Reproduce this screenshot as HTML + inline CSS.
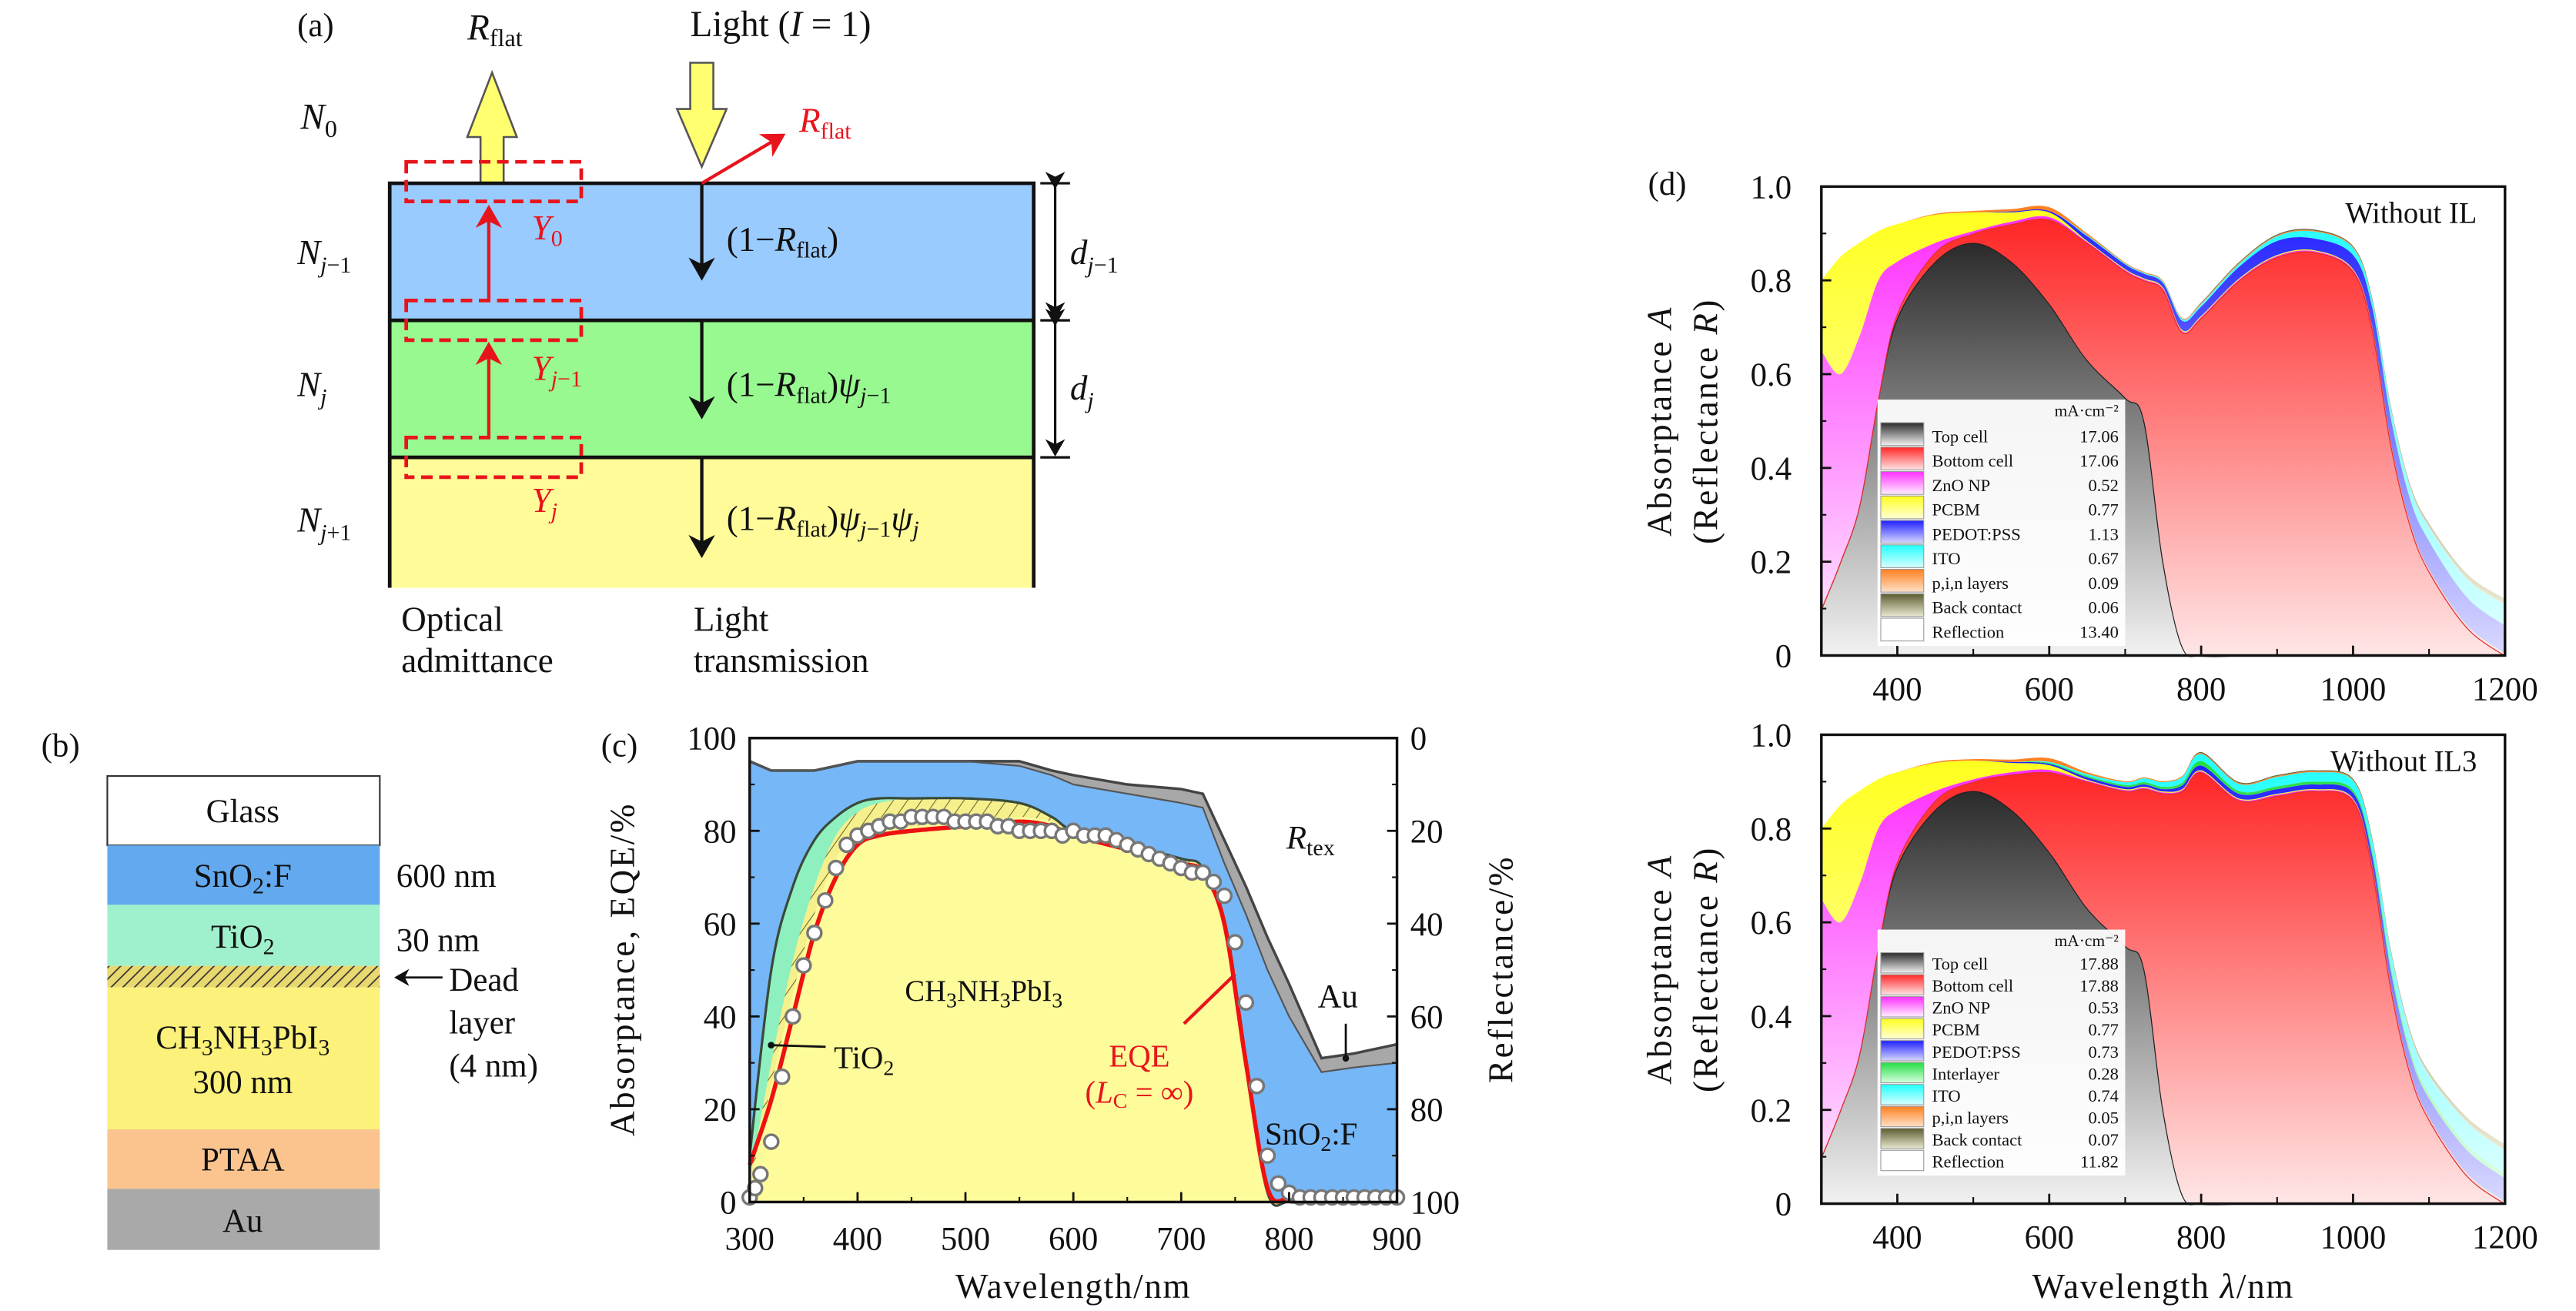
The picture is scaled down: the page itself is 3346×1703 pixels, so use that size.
<!DOCTYPE html>
<html><head><meta charset="utf-8">
<style>
html,body{margin:0;padding:0;background:#fff;}
svg{display:block;font-family:"Liberation Serif",serif;}
text{fill:#111;}
</style></head>
<body>
<svg id="fig" width="3346" height="1703" viewBox="0 0 1560 794" preserveAspectRatio="none" xmlns="http://www.w3.org/2000/svg">
<defs>
<pattern id="hatch" patternUnits="userSpaceOnUse" width="7" height="7" patternTransform="rotate(35)">
<rect width="7" height="7" fill="#f6f08c"/><line x1="0" y1="0" x2="0" y2="7" stroke="#6a6a30" stroke-width="1"/></pattern>
<pattern id="hatchB" patternUnits="userSpaceOnUse" width="5" height="5" patternTransform="rotate(45)">
<rect width="5" height="5" fill="#e8d870"/><line x1="0" y1="0" x2="0" y2="5" stroke="#333" stroke-width="1.6"/></pattern>
<marker id="ahK" markerWidth="8" markerHeight="8" refX="6" refY="4" orient="auto"><path d="M0,0 L7,4 L0,8 L2,4Z" fill="#111"/></marker>
<marker id="ahR" markerWidth="8" markerHeight="8" refX="6" refY="4" orient="auto"><path d="M0,0 L7,4 L0,8 L2,4Z" fill="#e8141c"/></marker>
</defs>

<!-- Panel (a) -->
<g>
<text x="180" y="22" font-size="20">(a)</text>
<text x="283" y="24" font-size="22"><tspan font-style="italic">R</tspan><tspan font-size="15" dy="4">flat</tspan></text>
<text x="418" y="22" font-size="22">Light (<tspan font-style="italic">I</tspan> = 1)</text>
<text x="182" y="78" font-size="22" font-style="italic">N<tspan font-size="15" dy="5" font-style="normal">0</tspan></text>
<polygon points="291,125 291,95 283,95 298,56 313,95 305,95 305,125" fill="#ffff70" stroke="#555" stroke-width="1.2" transform="translate(0,-12)"/>
<polygon points="418,40 432,40 432,68 440,68 425,103 410,68 418,68" fill="#ffff70" stroke="#555" stroke-width="1.2" transform="translate(0,-2)"/>
<rect x="236" y="111" width="390" height="83" fill="#99cbff"/>
<rect x="236" y="194" width="390" height="83" fill="#97f98f"/>
<rect x="236" y="277" width="390" height="79" fill="#fffb98"/>
<path d="M236,356 V111 H626 V356 M236,194 H626 M236,277 H626" fill="none" stroke="#111" stroke-width="2.2"/>
<g fill="none" stroke="#e8141c" stroke-width="2.2" stroke-dasharray="7,4">
<rect x="246" y="98" width="106" height="24"/>
<rect x="246" y="182" width="106" height="24"/>
<rect x="246" y="265" width="106" height="24"/>
</g>
<g stroke="#e8141c" stroke-width="2">
<line x1="296" y1="182" x2="296" y2="126" marker-end="url(#ahR)"/>
<line x1="296" y1="265" x2="296" y2="209" marker-end="url(#ahR)"/>
<line x1="425" y1="111" x2="474" y2="82" marker-end="url(#ahR)"/>
</g>
<text x="484" y="80" font-size="21" fill="#e8141c" style="fill:#e8141c" font-style="italic">R<tspan font-size="14" font-style="normal" dy="4">flat</tspan></text>
<g font-size="21" style="fill:#e8141c" font-style="italic">
<text x="322" y="145" style="fill:#e8141c">Y<tspan font-size="14" font-style="normal" dy="4">0</tspan></text>
<text x="322" y="230" style="fill:#e8141c">Y<tspan font-size="14" dy="4">j</tspan><tspan font-size="14" font-style="normal">−1</tspan></text>
<text x="322" y="310" style="fill:#e8141c">Y<tspan font-size="14" dy="4">j</tspan></text>
</g>
<g stroke="#111" stroke-width="2">
<line x1="425" y1="112" x2="425" y2="168" marker-end="url(#ahK)"/>
<line x1="425" y1="195" x2="425" y2="252" marker-end="url(#ahK)"/>
<line x1="425" y1="278" x2="425" y2="336" marker-end="url(#ahK)"/>
</g>
<g font-size="21">
<text x="440" y="152">(1−<tspan font-style="italic">R</tspan><tspan font-size="14" dy="4">flat</tspan><tspan dy="-4">)</tspan></text>
<text x="440" y="240">(1−<tspan font-style="italic">R</tspan><tspan font-size="14" dy="4">flat</tspan><tspan dy="-4">)</tspan><tspan font-style="italic">ψ</tspan><tspan font-size="14" dy="4" font-style="italic">j</tspan><tspan font-size="14">−1</tspan></text>
<text x="440" y="321">(1−<tspan font-style="italic">R</tspan><tspan font-size="14" dy="4">flat</tspan><tspan dy="-4">)</tspan><tspan font-style="italic">ψ</tspan><tspan font-size="14" dy="4" font-style="italic">j</tspan><tspan font-size="14">−1</tspan><tspan font-style="italic" dy="-4">ψ</tspan><tspan font-size="14" dy="4" font-style="italic">j</tspan></text>
<text x="180" y="160" font-style="italic">N<tspan font-size="14" dy="5">j</tspan><tspan font-size="14" font-style="normal">−1</tspan></text>
<text x="180" y="240" font-style="italic">N<tspan font-size="14" dy="5">j</tspan></text>
<text x="180" y="322" font-style="italic">N<tspan font-size="14" dy="5">j</tspan><tspan font-size="14" font-style="normal">+1</tspan></text>
<text x="648" y="160" font-style="italic">d<tspan font-size="14" dy="5">j</tspan><tspan font-size="14" font-style="normal">−1</tspan></text>
<text x="648" y="242" font-style="italic">d<tspan font-size="14" dy="5">j</tspan></text>
<text x="243" y="382">Optical</text><text x="243" y="407">admittance</text>
<text x="420" y="382">Light</text><text x="420" y="407">transmission</text>
</g>
<g stroke="#111" stroke-width="1.5">
<line x1="639" y1="113" x2="639" y2="192" marker-start="url(#ahK)" marker-end="url(#ahK)"/>
<line x1="639" y1="196" x2="639" y2="275" marker-start="url(#ahK)" marker-end="url(#ahK)"/>
<line x1="630" y1="111" x2="648" y2="111"/><line x1="630" y1="194" x2="648" y2="194"/><line x1="630" y1="277" x2="648" y2="277"/>
</g>
</g>

<!-- Panel (b) -->
<g font-size="20">
<text x="25" y="458">(b)</text>
<rect x="65" y="470" width="165" height="42" fill="#fff" stroke="#333"/>
<rect x="65" y="512" width="165" height="36" fill="#63a9ef"/>
<rect x="65" y="548" width="165" height="37" fill="#9ff0cc"/>
<rect x="65" y="585" width="165" height="13" fill="url(#hatchB)"/>
<rect x="65" y="598" width="165" height="86" fill="#fcf17a"/>
<rect x="65" y="684" width="165" height="36" fill="#fbc48e"/>
<rect x="65" y="720" width="165" height="37" fill="#a9a9a9"/>
<text x="147" y="498" text-anchor="middle">Glass</text>
<text x="147" y="537" text-anchor="middle">SnO<tspan font-size="14" dy="4">2</tspan><tspan dy="-4">:F</tspan></text>
<text x="147" y="574" text-anchor="middle">TiO<tspan font-size="14" dy="4">2</tspan></text>
<text x="147" y="635" text-anchor="middle">CH<tspan font-size="14" dy="4">3</tspan><tspan dy="-4">NH</tspan><tspan font-size="14" dy="4">3</tspan><tspan dy="-4">PbI</tspan><tspan font-size="14" dy="4">3</tspan></text>
<text x="147" y="662" text-anchor="middle">300 nm</text>
<text x="147" y="709" text-anchor="middle">PTAA</text>
<text x="147" y="746" text-anchor="middle">Au</text>
<text x="240" y="537">600 nm</text>
<text x="240" y="576">30 nm</text>
<line x1="268" y1="592" x2="240" y2="592" stroke="#111" stroke-width="1.3" marker-end="url(#ahK)"/>
<text x="272" y="600">Dead</text><text x="272" y="626">layer</text><text x="272" y="652">(4 nm)</text>
</g>

<g id="pc"></g>
<g id="pd"></g>
</svg>

<script>
// ---------- Panel (c) data ----------
const cW      = [300,320,340,360,380,400,420,450,500,550,580,600,650,700,720,740,760,780,800,830,860,900];
const cRtex   = [95,93,93,93,94,95,95,95,95,95,93,92,90,89,88,78,68,57,47,31,32,34];
const cSnO2   = [95,93,93,93,94,95,95,95,95,94,92,90,88,86,85,73,62,50,40,28,29,30];
const cAbs    = [10,50,68,78,83,86,87,87,87,86,83,80,77,74,72,60,30,2,0,0,0,0];
const cDead   = [5,30,52,68,79,84,86,87,87,86,83,80,77,74,72,60,30,2,0,0,0,0];
const cPvk    = [3,25,45,62,74,79,80,81,82,83,82,80,77,73,71,60,30,2,0,0,0,0];
const cEqe    = [8,22,40,58,70,77,79,80,81,82,81,79,76,73,71,60,30,3,0.6,0.6,0.6,0.6];
const mW = [300,305,310,320,330,340,350,360,370,380,390,400,410,420,430,440,450,460,470,480,490,500,510,520,530,540,550,560,570,580,590,600,610,620,630,640,650,660,670,680,690,700,710,720,730,740,750,760,770,780,790,800,810,820,830,840,850,860,870,880,890,900];
const mV = [1,3,6,13,27,40,51,58,65,72,77,79,80,81,82,82,83,83,83,83,82,82,82,82,81,81,80,80,80,80,79,80,79,79,79,78,77,76,75,74,73,72,71,71,69,66,56,43,25,10,4,2,1,1,1,1,1,1,1,1,1,1];
const cXTicks = [300,400,500,600,700,800,900];
const cYTicks = [0,20,40,60,80,100];
const cRTicks = ["100","80","60","40","20","0"];

// ---------- Panel (d) data ----------
const dW = [300,325,350,375,400,450,500,550,600,650,700,725,750,775,800,850,900,950,1000,1025,1050,1075,1100,1150,1200];
const aTop   = [0.10,0.20,0.32,0.55,0.72,0.84,0.88,0.84,0.75,0.63,0.55,0.50,0.20,0.02,0,0,0,0,0,0,0,0,0,0,0];
const aBot   = [0,0,0,0,0.01,0.02,0.02,0.08,0.18,0.25,0.27,0.30,0.58,0.67,0.72,0.80,0.85,0.86,0.82,0.70,0.45,0.28,0.18,0.06,0];
const aZno   = [0.55,0.40,0.36,0.25,0.11,0.02,0.005,0.005,0.005,0.002,0.002,0.002,0.002,0.002,0.002,0.002,0.002,0.002,0.002,0.002,0.002,0.002,0.002,0.002,0.002];
const aPcbm  = [0.15,0.25,0.20,0.105,0.08,0.06,0.04,0.02,0.01,0.002,0.002,0.002,0.002,0.002,0.002,0.002,0.002,0.002,0.002,0.002,0.002,0.002,0.002,0.002,0.002];
const aPedot = [0,0,0,0,0,0,0,0.002,0.003,0.01,0.01,0.01,0.01,0.02,0.02,0.025,0.03,0.025,0.03,0.04,0.05,0.05,0.06,0.06,0.06];
const aIto   = [0,0,0,0,0,0,0,0,0,0.002,0.002,0.002,0.003,0.004,0.005,0.006,0.01,0.015,0.015,0.015,0.02,0.025,0.03,0.04,0.045];
const aPin   = [0,0,0,0,0,0.002,0.003,0.005,0.008,0.004,0.002,0.002,0.002,0.002,0.002,0.002,0.002,0.002,0.002,0.002,0.002,0.002,0.002,0.002,0.002];
const aBack  = [0,0,0,0,0,0,0,0,0,0,0,0,0,0,0.002,0.002,0.002,0.002,0.002,0.003,0.004,0.005,0.006,0.008,0.01];
const bTop   = [0.10,0.20,0.32,0.55,0.72,0.84,0.88,0.84,0.75,0.63,0.55,0.50,0.20,0.02,0,0,0,0,0,0,0,0,0,0,0];
const bBot   = [0,0,0,0,0.01,0.02,0.02,0.075,0.17,0.27,0.33,0.385,0.675,0.86,0.92,0.86,0.87,0.88,0.86,0.72,0.46,0.28,0.18,0.06,0];
const bZno   = [0.55,0.40,0.36,0.25,0.11,0.02,0.005,0.005,0.005,0.002,0.002,0.002,0.002,0.002,0.002,0.002,0.002,0.002,0.002,0.002,0.002,0.002,0.002,0.002,0.002];
const bPcbm  = [0.15,0.25,0.20,0.105,0.08,0.06,0.04,0.02,0.01,0.002,0.002,0.002,0.002,0.002,0.002,0.002,0.002,0.002,0.002,0.002,0.002,0.002,0.002,0.002,0.002];
const bPedot = [0,0,0,0,0,0,0,0.002,0.003,0.005,0.005,0.005,0.005,0.008,0.01,0.01,0.01,0.01,0.012,0.02,0.03,0.035,0.04,0.05,0.05];
const bInter = [0,0,0,0,0,0,0,0,0.002,0.003,0.004,0.005,0.005,0.006,0.01,0.006,0.006,0.006,0.006,0.008,0.01,0.01,0.01,0.01,0.01];
const bIto   = [0,0,0,0,0,0,0,0,0.002,0.004,0.006,0.008,0.01,0.012,0.015,0.015,0.02,0.02,0.02,0.025,0.03,0.035,0.04,0.05,0.05];
const bPin   = [0,0,0,0,0,0.002,0.003,0.005,0.008,0.004,0.002,0.002,0.002,0.002,0.002,0.002,0.002,0.002,0.002,0.002,0.002,0.002,0.002,0.002,0.002];
const bBack  = [0,0,0,0,0,0,0,0,0,0,0,0,0,0,0.002,0.002,0.002,0.002,0.002,0.003,0.004,0.005,0.006,0.008,0.01];
const legA = ["Top cell","Bottom cell","ZnO NP","PCBM","PEDOT:PSS","ITO","p,i,n layers","Back contact","Reflection"];
const legAV = ["17.06","17.06","0.52","0.77","1.13","0.67","0.09","0.06","13.40"];
const legB = ["Top cell","Bottom cell","ZnO NP","PCBM","PEDOT:PSS","Interlayer","ITO","p,i,n layers","Back contact","Reflection"];
const legBV = ["17.88","17.88","0.53","0.77","0.73","0.28","0.74","0.05","0.07","11.82"];
const dXTicks = [400,600,800,1000,1200];
const dYTicks = ["0","0.2","0.4","0.6","0.8","1.0"];

const NS="http://www.w3.org/2000/svg";
function mk(parent,tag,attrs,txt){const e=document.createElementNS(NS,tag);for(const k in attrs)e.setAttribute(k,attrs[k]);if(txt!==undefined)e.textContent=txt;parent.appendChild(e);return e;}
function segs(p){let d='';for(let i=0;i<p.length-1;i++){const p0=p[i-1]||p[i],p1=p[i],p2=p[i+1],p3=p[i+2]||p2;
const c1=[p1[0]+(p2[0]-p0[0])/6,p1[1]+(p2[1]-p0[1])/6],c2=[p2[0]-(p3[0]-p1[0])/6,p2[1]-(p3[1]-p1[1])/6];
d+=' C'+c1[0].toFixed(2)+','+c1[1].toFixed(2)+' '+c2[0].toFixed(2)+','+c2[1].toFixed(2)+' '+p2[0].toFixed(2)+','+p2[1].toFixed(2);}return d;}
function line(p){return 'M'+p[0][0]+','+p[0][1]+segs(p);}
function area(top,bot){const br=bot.slice().reverse();return 'M'+top[0][0]+','+top[0][1]+segs(top)+' L'+br[0][0]+','+br[0][1]+segs(br)+'Z';}
function lin(p){return 'M'+p.map(q=>q[0].toFixed(2)+','+q[1].toFixed(2)).join(' L');}

// ---------- Panel (c) ----------
const pc=document.getElementById('pc');
const cx=w=>454+(w-300)*392/600, cy=v=>728-v*2.81;
const pts=a=>cW.map((w,i)=>[cx(w),cy(a[i])]);
const base=cW.map(w=>[cx(w),cy(0)]);
let e;
e=mk(pc,'path',{d:lin(pts(cRtex))+' L'+cx(900)+','+cy(0)+' L'+cx(300)+','+cy(0)+'Z',fill:'#a8a8a8'});


e=mk(pc,'path',{d:lin(pts(cSnO2))+' L'+cx(900)+','+cy(0)+' L'+cx(300)+','+cy(0)+'Z',fill:'#75b7f7'});


e=mk(pc,'path',{d:area(pts(cAbs),base),fill:'#8ff0bf'});


e=mk(pc,'path',{d:area(pts(cDead),base),fill:'url(#hatch)'});


e=mk(pc,'path',{d:area(pts(cPvk),base),fill:'#fdfb9a'});


mk(pc,'path',{d:lin(pts(cRtex)),fill:'none',stroke:'#444','stroke-width':1.6});
mk(pc,'path',{d:lin(pts(cSnO2)),fill:'none',stroke:'#555','stroke-width':1});
mk(pc,'path',{d:line(pts(cAbs)),fill:'none',stroke:'#3a4a3a','stroke-width':1.5});
e=mk(pc,'path',{d:line(pts(cEqe)),fill:'none',stroke:'#ee1111','stroke-width':2.6});


mW.forEach((w,i)=>{const c=mk(pc,'circle',{cx:cx(w),cy:cy(mV[i]),r:4.2,fill:'#fff',stroke:'#777','stroke-width':1.6});

});
mk(pc,'rect',{x:454,y:447,width:392,height:281,fill:'none',stroke:'#111','stroke-width':1.6});
cXTicks.forEach(t=>{mk(pc,'line',{x1:cx(t),x2:cx(t),y1:728,y2:722,stroke:'#111','stroke-width':1.3});
if(t<900)mk(pc,'line',{x1:cx(t+50),x2:cx(t+50),y1:728,y2:725,stroke:'#111'});
const tx=mk(pc,'text',{x:cx(t),y:757,'font-size':20,'text-anchor':'middle'},String(t));

});
cYTicks.forEach((t,i)=>{mk(pc,'line',{x1:454,x2:460,y1:cy(t),y2:cy(t),stroke:'#111','stroke-width':1.3});
mk(pc,'line',{x1:846,x2:840,y1:cy(t),y2:cy(t),stroke:'#111','stroke-width':1.3});
if(t<100){mk(pc,'line',{x1:454,x2:457,y1:cy(t+10),y2:cy(t+10),stroke:'#111'});mk(pc,'line',{x1:846,x2:843,y1:cy(t+10),y2:cy(t+10),stroke:'#111'});}
const a=mk(pc,'text',{x:446,y:cy(t)+7,'font-size':20,'text-anchor':'end'},String(t));


const b=mk(pc,'text',{x:854,y:cy(t)+7,'font-size':20},cRTicks[i]);

});
pc.insertAdjacentHTML('beforeend',`
<text x="364" y="458" font-size="20">(c)</text>
<text x="650" y="786" font-size="21" text-anchor="middle" letter-spacing="0.8">Wavelength/nm</text>
<text transform="translate(384,587) rotate(-90)" font-size="21" text-anchor="middle" letter-spacing="1.2">Absorptance, EQE/%</text>
<text transform="translate(916,587) rotate(-90)" font-size="21" text-anchor="middle" letter-spacing="1.2">Reflectance/%</text>
<text x="779" y="514" font-size="20" font-style="italic">R<tspan font-size="14" font-style="normal" dy="4">tex</tspan></text>
<text x="798" y="610" font-size="20">Au</text>
<line x1="815" y1="620" x2="815" y2="641" stroke="#111" stroke-width="1.3"/><circle cx="815" cy="641" r="2" fill="#111"/>
<text x="766" y="693" font-size="19">SnO<tspan font-size="13" dy="4">2</tspan><tspan dy="-4">:F</tspan></text>
<text x="548" y="606" font-size="18">CH<tspan font-size="13" dy="4">3</tspan><tspan dy="-4">NH</tspan><tspan font-size="13" dy="4">3</tspan><tspan dy="-4">PbI</tspan><tspan font-size="13" dy="4">3</tspan></text>
<text x="505" y="647" font-size="19">TiO<tspan font-size="13" dy="4">2</tspan></text>
<line x1="500" y1="634" x2="467" y2="633" stroke="#111" stroke-width="1.3"/><circle cx="467" cy="633" r="2" fill="#111"/>
<text x="690" y="646" font-size="19" text-anchor="middle" style="fill:#e8141c">EQE</text>
<text x="690" y="668" font-size="19" text-anchor="middle" style="fill:#e8141c">(<tspan font-style="italic">L</tspan><tspan font-size="13" dy="3">C</tspan><tspan dy="-3"> = ∞)</tspan></text>
<line x1="717" y1="620" x2="748" y2="590" stroke="#e8141c" stroke-width="2"/>`);

// ---------- Panel (d) ----------
const pd=document.getElementById('pd');
const dx=w=>1103+(w-300)*414/900;
const grads=[["gTop","#2b2b2b","#f2f2f2"],["gBot","#ff2626","#ffe6e6"],["gZno","#ff2eff","#fff0ff"],["gPcbm","#ffff1e","#ffffd8"],["gPedot","#2020ff","#d8d8ff"],["gInter","#22dd44","#d8ffe0"],["gIto","#20ffff","#d8ffff"],["gPin","#ff8020","#ffe0c8"],["gBack","#5c5c30","#e8e8d0"],["gRefl","#ffffff","#ffffff"]];
const defs=document.querySelector('defs');
grads.forEach(g=>{const lg=mk(defs,'linearGradient',{id:g[0],x1:0,y1:0,x2:0,y2:1});mk(lg,'stop',{offset:0,'stop-color':g[1]});mk(lg,'stop',{offset:1,'stop-color':g[2]});});
function panelD(y0,layers,gids,names,legN,legV,lx,ly,title){
  const dy=v=>y0-v*284;
  let cum=dW.map(()=>0);
  layers.forEach((L,k)=>{const nc=cum.map((c,i)=>c+L[i]);
    const top=dW.map((w,i)=>[dx(w),dy(nc[i])]),bot=dW.map((w,i)=>[dx(w),dy(cum[i])]);
    const p=mk(pd,'path',{d:area(top,bot),fill:'url(#'+gids[k]+')'});
    
    
    if(k<2)mk(pd,'path',{d:line(top),fill:'none',stroke:k==0?'#222':'#e03030','stroke-width':1.2});
    cum=nc;});
  mk(pd,'rect',{x:1103,y:y0-284,width:414,height:284,fill:'none',stroke:'#111','stroke-width':1.6});
  dYTicks.forEach((t,i)=>{const v=i*0.2;
    mk(pd,'line',{x1:1103,x2:1109,y1:dy(v),y2:dy(v),stroke:'#111','stroke-width':1.3});
    if(i<5)mk(pd,'line',{x1:1103,x2:1106,y1:dy(v+0.1),y2:dy(v+0.1),stroke:'#111'});
    const tx=mk(pd,'text',{x:1085,y:dy(v)+7,'font-size':20,'text-anchor':'end'},t);
    
    });
  dXTicks.forEach(t=>{mk(pd,'line',{x1:dx(t),x2:dx(t),y1:y0,y2:y0-6,stroke:'#111','stroke-width':1.3});
    mk(pd,'line',{x1:dx(t-100),x2:dx(t-100),y1:y0,y2:y0-4,stroke:'#111'});
    const tx=mk(pd,'text',{x:dx(t),y:y0+27,'font-size':20,'text-anchor':'middle'},String(t));
    
    });
  const tt=mk(pd,'text',{x:1500,y:y0-262,'font-size':18,'text-anchor':'end'},title);
  
  
  const n=legN.length, rh=(n==9?14.8:13.3), h=16+n*rh;
  const lgd=mk(pd,'g',{});
  
  
  mk(lgd,'rect',{x:lx,y:ly,width:150,height:h,fill:'#fff','fill-opacity':0.93});
  mk(lgd,'text',{x:lx+146,y:ly+10,'font-size':10,'text-anchor':'end'},'mA·cm⁻²');
  legN.forEach((nm,i)=>{const yy=ly+14+i*rh;
    const sw=mk(lgd,'rect',{x:lx+2,y:yy,width:26,height:rh-1,fill:'url(#'+(i==n-1?'gRefl':gids[i])+')',stroke:'#999','stroke-width':0.5});
    
    
    const t1=mk(lgd,'text',{x:lx+33,y:yy+rh-3,'font-size':10.5},nm);
    
    
    mk(lgd,'text',{x:lx+146,y:yy+rh-3,'font-size':10.5,'text-anchor':'end'},legV[i]);});
}
panelD(397,[aTop,aBot,aZno,aPcbm,aPedot,aIto,aPin,aBack],["gTop","gBot","gZno","gPcbm","gPedot","gIto","gPin","gBack"],["top-cell","bottom-cell","zno","pcbm","pedot","ito","pin","back-contact"],legA,legAV,1137,242,"Without IL");
panelD(729,[bTop,bBot,bZno,bPcbm,bPedot,bInter,bIto,bPin,bBack],["gTop","gBot","gZno","gPcbm","gPedot","gInter","gIto","gPin","gBack"],["top-cell","bottom-cell","zno","pcbm","pedot","interlayer","ito","pin","back-contact"],legB,legBV,1137,563,"Without IL3");
pd.insertAdjacentHTML('beforeend',`
<text x="998" y="118" font-size="20">(d)</text>
<text transform="translate(1012,255) rotate(-90)" font-size="21" text-anchor="middle" letter-spacing="1.2">Absorptance <tspan font-style="italic">A</tspan></text>
<text transform="translate(1040,255) rotate(-90)" font-size="21" text-anchor="middle" letter-spacing="1.2">(Reflectance <tspan font-style="italic">R</tspan>)</text>
<text transform="translate(1012,587) rotate(-90)" font-size="21" text-anchor="middle" letter-spacing="1.2">Absorptance <tspan font-style="italic">A</tspan></text>
<text transform="translate(1040,587) rotate(-90)" font-size="21" text-anchor="middle" letter-spacing="1.2">(Reflectance <tspan font-style="italic">R</tspan>)</text>
<text x="1310" y="786" font-size="21" text-anchor="middle" letter-spacing="0.8">Wavelength <tspan font-style="italic">λ</tspan>/nm</text>`);
</script>
</body></html>
